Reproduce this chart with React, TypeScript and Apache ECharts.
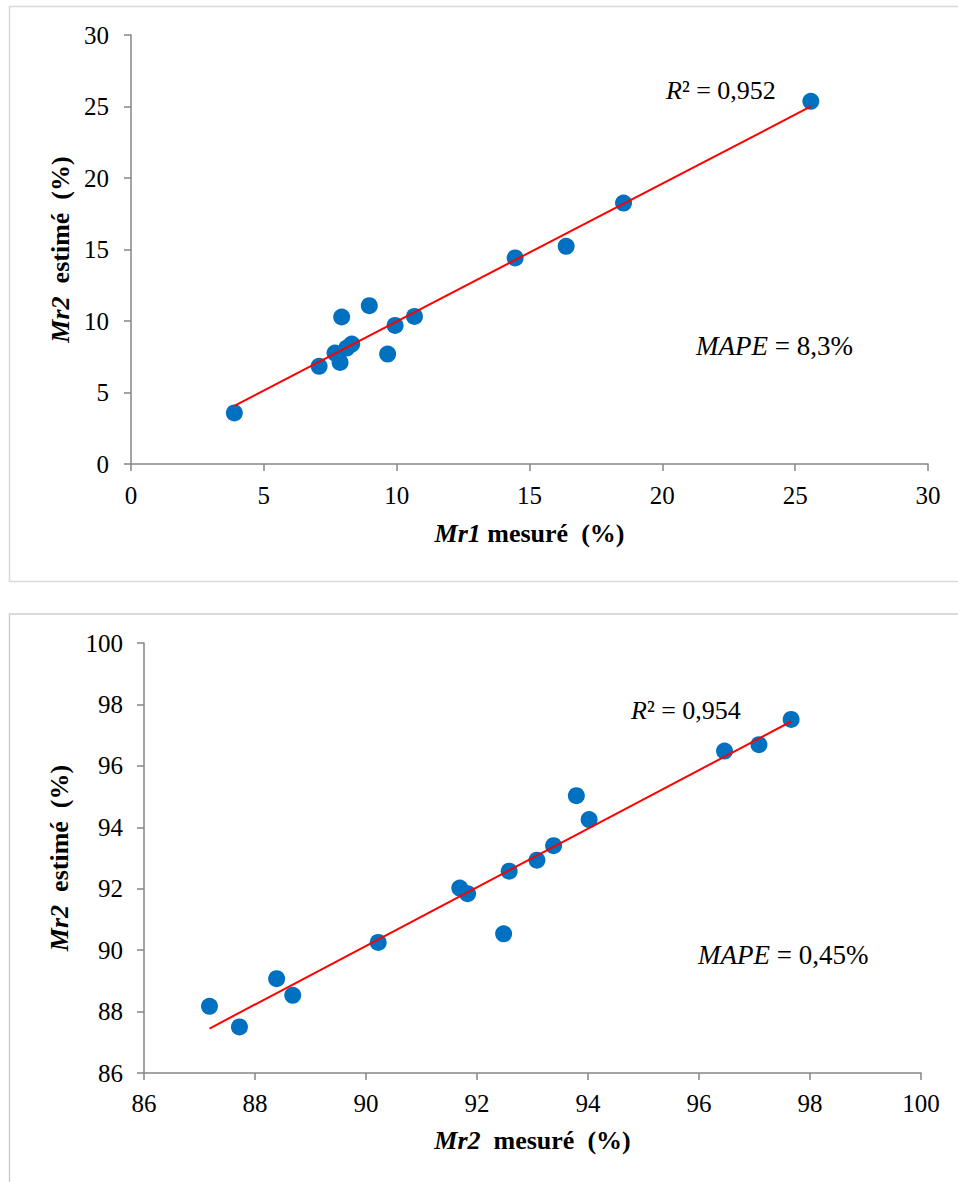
import React, { useEffect, useRef } from "react";
import * as echarts from "echarts";

// Panel 1: Mr1 measured vs Mr2 estimated (%)
const mr1Measured = [3.89, 7.08, 7.68, 7.87, 7.93, 8.12, 8.31, 8.97, 9.66, 9.94, 10.67, 14.46, 16.38, 18.54, 25.59];
const mr2EstimatedA = [3.57, 6.83, 7.76, 7.1, 10.28, 8.11, 8.39, 11.07, 7.69, 9.69, 10.32, 14.41, 15.22, 18.25, 25.36];

// Panel 2: Mr2 measured vs Mr2 estimated (%)
const mr2Measured = [87.18, 87.72, 88.39, 88.68, 90.22, 91.69, 91.83, 92.48, 92.58, 93.08, 93.38, 93.79, 94.02, 96.46, 97.08, 97.66];
const mr2EstimatedB = [88.17, 87.5, 89.07, 88.53, 90.25, 92.02, 91.84, 90.53, 92.57, 92.93, 93.4, 95.03, 94.25, 96.48, 96.69, 97.51];

const axisRangeA = { min: 0, max: 30, interval: 5 };
const axisRangeB = { min: 86, max: 100, interval: 2 };

const r2Labels = ["0,952", "0,954"];
const mapeLabels = ["8,3%", "0,45%"];

const SERIF = "Liberation Serif";
const AXIS_GRAY = "#868686";

function zip(xs: number[], ys: number[]) {
  return xs.map((x, i) => [x, ys[i]]);
}

// Least-squares line spanning the measured range
function trendLine(xs: number[], ys: number[]) {
  const n = xs.length;
  const mx = xs.reduce((a, b) => a + b, 0) / n;
  const my = ys.reduce((a, b) => a + b, 0) / n;
  let sxy = 0;
  let sxx = 0;
  for (let i = 0; i < n; i++) {
    sxy += (xs[i] - mx) * (ys[i] - my);
    sxx += (xs[i] - mx) * (xs[i] - mx);
  }
  const slope = sxy / sxx;
  const icpt = my - slope * mx;
  const x0 = Math.min(...xs);
  const x1 = Math.max(...xs);
  return [
    [x0, icpt + slope * x0],
    [x1, icpt + slope * x1],
  ];
}

function valueAxis(
  range: { min: number; max: number; interval: number },
  gridIndex: number,
  name: string,
  nameGap: number,
  labelMargin: number
) {
  return {
    type: "value",
    gridIndex,
    min: range.min,
    max: range.max,
    interval: range.interval,
    name,
    nameLocation: "middle",
    nameGap,
    nameTextStyle: {
      fontFamily: SERIF,
      fontSize: 26,
      fontWeight: "bold",
      color: "#000",
      rich: {
        i: { fontFamily: SERIF, fontSize: 26, fontWeight: "bold", fontStyle: "italic", color: "#000" },
        b: { fontFamily: SERIF, fontSize: 26, fontWeight: "bold", color: "#000" },
      },
    },
    axisLine: { show: true, onZero: false, lineStyle: { color: AXIS_GRAY, width: 1.5 } },
    axisTick: { show: true, inside: false, length: 7, lineStyle: { color: AXIS_GRAY, width: 1.5 } },
    axisLabel: { fontFamily: SERIF, fontSize: 25, color: "#000", margin: labelMargin },
    splitLine: { show: false },
  };
}

function statText(x: number, y: number, italic: string, rest: string, size: number) {
  return {
    type: "text",
    x,
    y,
    style: {
      text: `{i|${italic}}{n|${rest}}`,
      fontFamily: SERIF,
      fontSize: size,
      verticalAlign: "middle",
      fill: "#000",
      rich: {
        i: { fontFamily: SERIF, fontSize: size, fontStyle: "italic" },
        n: { fontFamily: SERIF, fontSize: size },
      },
    },
  };
}

export default function App() {
  const ref = useRef<HTMLDivElement>(null);

  useEffect(() => {
    if (!ref.current) return;
    const chart = echarts.init(ref.current, null, { renderer: "svg" });

    const markerStyle = { color: "#0070c0", opacity: 1 };

    chart.setOption({
      animation: false,
      grid: [
        { left: 131, top: 35, width: 797, height: 429 },
        { left: 144, top: 643, width: 777, height: 430 },
      ],
      xAxis: [
        valueAxis(axisRangeA, 0, "{i|Mr1} {b|mesuré  (%)}", 56, 19),
        valueAxis(axisRangeB, 1, "{i|Mr2} {b| mesuré  (%)}", 54, 18),
      ],
      yAxis: [
        valueAxis(axisRangeA, 0, "{i|Mr2} {b| estimé  (%)}", 58, 22),
        valueAxis(axisRangeB, 1, "{i|Mr2} {b| estimé  (%)}", 72, 21),
      ],
      series: [
        {
          type: "line",
          xAxisIndex: 0,
          yAxisIndex: 0,
          data: trendLine(mr1Measured, mr2EstimatedA),
          showSymbol: false,
          lineStyle: { color: "#ff0000", width: 2 },
          z: 3,
        },
        {
          type: "scatter",
          xAxisIndex: 0,
          yAxisIndex: 0,
          data: zip(mr1Measured, mr2EstimatedA),
          symbolSize: 17,
          itemStyle: markerStyle,
          z: 2,
        },
        {
          type: "line",
          xAxisIndex: 1,
          yAxisIndex: 1,
          data: trendLine(mr2Measured, mr2EstimatedB),
          showSymbol: false,
          lineStyle: { color: "#ff0000", width: 2 },
          z: 3,
        },
        {
          type: "scatter",
          xAxisIndex: 1,
          yAxisIndex: 1,
          data: zip(mr2Measured, mr2EstimatedB),
          symbolSize: 17,
          itemStyle: markerStyle,
          z: 2,
        },
      ],
      graphic: [
        {
          type: "rect",
          shape: { x: 9.5, y: 6.5, width: 960, height: 575 },
          style: { fill: "none", stroke: "#d9d9d9", lineWidth: 1.5 },
          silent: true,
        },
        {
          type: "rect",
          shape: { x: 9.5, y: 614, width: 960, height: 600 },
          style: { fill: "none", stroke: "#cfcfcf", lineWidth: 1.5 },
          silent: true,
        },
        statText(666, 90, "R", `² = ${r2Labels[0]}`, 26),
        statText(696, 346, "MAPE", ` = ${mapeLabels[0]}`, 27),
        statText(631, 710, "R", `² = ${r2Labels[1]}`, 26),
        statText(698, 955, "MAPE", ` = ${mapeLabels[1]}`, 27),
      ],
    });

    return () => chart.dispose();
  }, []);

  return (
    <div
      ref={ref}
      style={{ position: "absolute", left: 0, top: 0, width: 958, height: 1182, background: "#fff" }}
    />
  );
}
